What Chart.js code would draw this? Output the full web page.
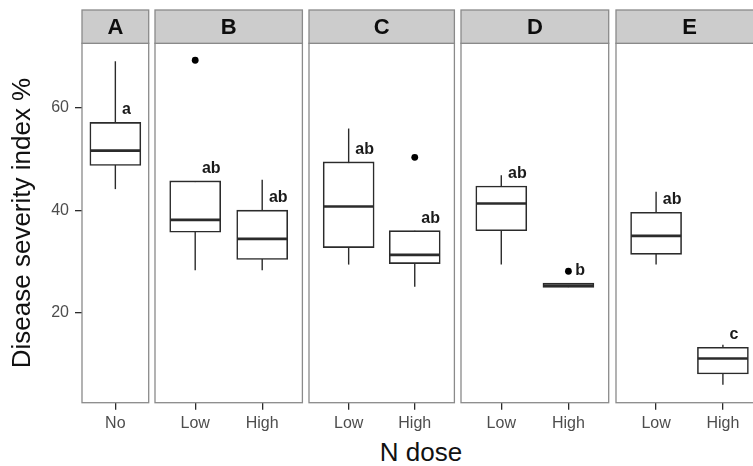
<!DOCTYPE html>
<html>
<head>
<meta charset="utf-8">
<script src="https://cdn.jsdelivr.net/npm/chart.js@4.4.0/dist/chart.umd.min.js"></script>
<style>
  body { margin: 0; background: #fff; width: 753px; height: 466px; overflow: hidden; position: relative; font-family: 'Liberation Sans', Arial, sans-serif; }
  canvas { position: absolute; top: 0; }
  #xtitle { position: absolute; left: 321px; width: 200px; top: 437px; text-align: center; font-size: 26px; line-height: 30px; color: #111; }
</style>
</head>
<body>
<div id="xtitle">N dose</div>
<script>
// data, one entry per facet
const panels = ['A', 'B', 'C', 'D', 'E'];
const doses = [['No'], ['Low', 'High'], ['Low', 'High'], ['Low', 'High'], ['Low', 'High']];
const lowWhisker = [[44.1], [28.3, 28.3], [29.4, 25.1], [29.4, 25.0], [29.4, 6.0]];
const q1 = [[48.7], [35.7, 30.4], [32.7, 29.6], [36.0, 24.95], [31.4, 8.1]];
const median = [[51.6], [38.1, 34.4], [40.7, 31.3], [41.3, 25.3], [35.0, 11.1]];
const q3 = [[57.1], [45.7, 40.0], [49.4, 36.0], [44.7, 25.8], [39.6, 13.3]];
const highWhisker = [[69.0], [45.7, 45.9], [55.9, 36.0], [46.8, 25.8], [43.6, 13.8]];
const outlierDose = [[], [1], [2], [2], []];
const outlierValue = [[], [69.2], [50.3], [28.1], []];
const letters = [['a'], ['ab', 'ab'], ['ab', 'ab'], ['ab', 'b'], ['ab', 'c']];
const yTicks = [20, 40, 60];

// layout of the facets on the page
const panelLeft = [82, 155.3, 309.3, 461.3, 615.7];
const panelRight = [148.7, 302.7, 454.7, 609, 762.7];
const stripTop = 10, areaTop = 43.3, areaBottom = 402.7, H = 466;
const fontFam = "'Liberation Sans', Arial, sans-serif";
const ink = '#2b2b2b';
const frame = '#8a8a8a';

const boxPlugin = {
  id: 'boxes',
  beforeDatasetsDraw(chart, args, opts) {
    const p = opts.panel, x = chart.scales.x, y = chart.scales.y, ctx = chart.ctx;
    ctx.save();
    ctx.strokeStyle = ink;
    ctx.lineWidth = 1.4;
    doses[p].forEach((d, j) => {
      const px = x.getPixelForValue(j + 1);
      ctx.beginPath();
      ctx.moveTo(px, y.getPixelForValue(lowWhisker[p][j]));
      ctx.lineTo(px, y.getPixelForValue(highWhisker[p][j]));
      ctx.stroke();
    });
    ctx.restore();
  },
  afterDatasetsDraw(chart, args, opts) {
    const p = opts.panel, x = chart.scales.x, y = chart.scales.y, ctx = chart.ctx;
    ctx.save();
    doses[p].forEach((d, j) => {
      const px = x.getPixelForValue(j + 1);
      const py = y.getPixelForValue(median[p][j]);
      ctx.strokeStyle = ink;
      ctx.lineWidth = 2.6;
      ctx.beginPath();
      ctx.moveTo(px - 25, py);
      ctx.lineTo(px + 25, py);
      ctx.stroke();
      ctx.fillStyle = '#1a1a1a';
      ctx.font = 'bold 16px ' + fontFam;
      ctx.textAlign = 'left';
      ctx.textBaseline = 'middle';
      ctx.fillText(letters[p][j], x.getPixelForValue(j + 1.1), y.getPixelForValue(q3[p][j] + 2.4));
    });
    ctx.restore();
  },
  afterDraw(chart, args, opts) {
    const {left, right, top, bottom} = chart.chartArea, ctx = chart.ctx;
    ctx.save();
    ctx.strokeStyle = frame;
    ctx.lineWidth = 1.3;
    ctx.strokeRect(left, top, right - left, bottom - top);
    ctx.fillStyle = '#cccccc';
    ctx.fillRect(left, stripTop, right - left, top - stripTop);
    ctx.strokeRect(left, stripTop, right - left, top - stripTop);
    ctx.fillStyle = '#0d0d0d';
    ctx.font = 'bold 22px ' + fontFam;
    ctx.textAlign = 'center';
    ctx.textBaseline = 'middle';
    ctx.fillText(panels[opts.panel], (left + right) / 2, (stripTop + top) / 2 + 1);
    ctx.restore();
  }
};

panels.forEach((name, i) => {
  const cv = document.createElement('canvas');
  const cLeft = i === 0 ? 0 : panelLeft[i] - 4;
  const w = Math.ceil(panelRight[i] + 4 - cLeft);
  cv.width = w;
  cv.height = H;
  cv.style.left = cLeft + 'px';
  document.body.appendChild(cv);

  new Chart(cv, {
    type: 'bar',
    data: {
      datasets: [{
        data: doses[i].map((d, j) => ({x: j + 1, y: [q1[i][j], q3[i][j]]})),
        backgroundColor: '#ffffff',
        borderColor: ink,
        borderWidth: 1.6,
        borderSkipped: false,
        barThickness: 51
      }, {
        type: 'scatter',
        data: outlierDose[i].map((d, k) => ({x: d, y: outlierValue[i][k]})),
        pointStyle: 'circle',
        pointRadius: 3.4,
        backgroundColor: '#000',
        borderColor: '#000',
        borderWidth: 0
      }]
    },
    options: {
      responsive: false,
      animation: false,
      layout: {
        padding: {
          left: i === 0 ? 0 : panelLeft[i] - cLeft,
          right: w - (panelRight[i] - cLeft),
          top: areaTop,
          bottom: 0
        }
      },
      plugins: {
        legend: {display: false},
        tooltip: {enabled: false},
        boxes: {panel: i}
      },
      scales: {
        x: {
          type: 'linear',
          min: i === 0 ? 0.5 : 0.4,
          max: i === 0 ? 1.5 : 2.6,
          offset: false,
          afterBuildTicks: s => { s.ticks = doses[i].map((d, j) => ({value: j + 1})); },
          afterFit: s => { s.height = H - areaBottom; },
          grid: {offset: false, drawOnChartArea: false, drawTicks: true, tickLength: 7, color: ink, lineWidth: 1.3},
          border: {display: false},
          ticks: {
            padding: 4,
            color: '#4d4d4d',
            font: {family: fontFam, size: 16},
            callback: v => doses[i][v - 1]
          }
        },
        y: {
          display: i === 0,
          min: 2.5,
          max: 72.5,
          afterBuildTicks: s => { s.ticks = yTicks.map(v => ({value: v})); },
          afterFit: s => { if (i === 0) s.width = panelLeft[0]; },
          grid: {drawOnChartArea: false, drawTicks: true, tickLength: 7, color: ink, lineWidth: 1.3},
          border: {display: false},
          ticks: {
            padding: 6,
            color: '#4d4d4d',
            font: {family: fontFam, size: 16}
          },
          title: {
            display: true,
            text: 'Disease severity index %',
            color: '#111',
            padding: {top: 7, bottom: 0},
            font: {family: fontFam, size: 26}
          }
        }
      }
    },
    plugins: [boxPlugin]
  });
});
</script>
</body>
</html>
